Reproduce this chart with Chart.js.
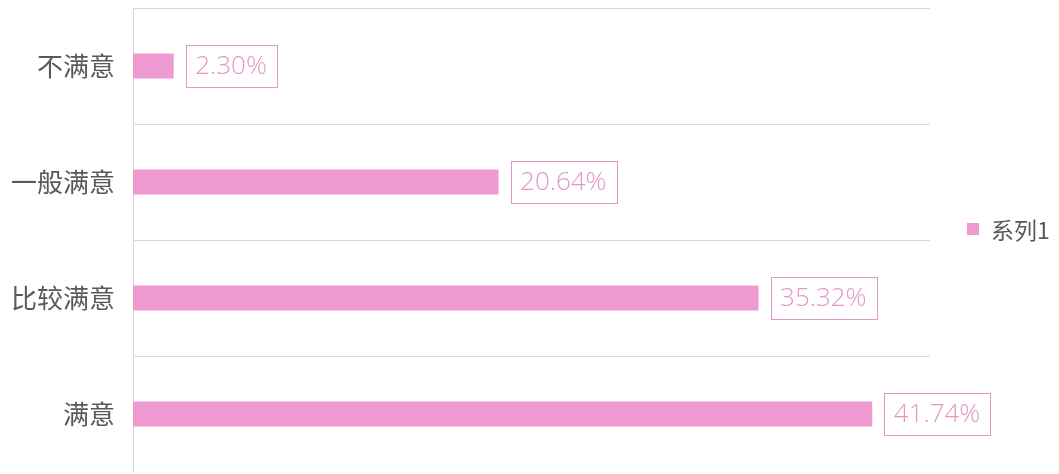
<!DOCTYPE html>
<html>
<head>
<meta charset="utf-8">
<script src="https://cdn.jsdelivr.net/npm/chart.js@4/dist/chart.umd.min.js"></script>
<style>
  html, body { margin: 0; padding: 0; background: #ffffff; overflow: hidden; }
  #wrap { position: relative; width: 1059px; height: 474px; }
</style>
</head>
<body>
<div id="wrap"><canvas id="c"></canvas></div>
<script>
const categories = ['不满意', '一般满意', '比较满意', '满意'];
const values = [2.30, 20.64, 35.32, 41.74];
const seriesName = '系列1';
const axisMin = 0;
const axisMax = 45;

const PINK = '#f09ad2';
const LABEL_PINK = '#e595c6';
const GRID = '#d9d9d9';
const TEXT = '#595959';

const valueLabels = {
  id: 'valueLabels',
  afterDatasetsDraw(chart) {
    const ctx = chart.ctx;
    const meta = chart.getDatasetMeta(0);
    const data = chart.data.datasets[0].data;
    ctx.save();
    ctx.font = '300 26px "Open Sans", "Liberation Sans", sans-serif';
    ctx.textBaseline = 'middle';
    ctx.textAlign = 'left';
    meta.data.forEach((bar, i) => {
      const txt = Number(data[i]).toFixed(2) + '%';
      const tw = ctx.measureText(txt).width;
      const padX = 9.5;
      const h = 42;
      const bx = bar.x + 12;
      const by = bar.y - h / 2;
      ctx.fillStyle = '#ffffff';
      ctx.fillRect(bx, by, tw + padX * 2, h);
      ctx.strokeStyle = LABEL_PINK;
      ctx.lineWidth = 1;
      ctx.strokeRect(Math.round(bx) + 0.5, Math.round(by) + 0.5, Math.round(tw + padX * 2), h);
      ctx.fillStyle = LABEL_PINK;
      ctx.fillText(txt, bx + padX, bar.y + 1);
    });
    ctx.restore();
  }
};

const sideLegend = {
  id: 'sideLegend',
  afterDraw(chart) {
    const ctx = chart.ctx;
    const ds = chart.data.datasets[0];
    const ca = chart.chartArea;
    const cy = (ca.top + ca.bottom) / 2 - 11;
    const x0 = ca.right + 37;
    ctx.save();
    ctx.fillStyle = ds.backgroundColor;
    ctx.fillRect(x0, cy - 6, 12, 12);
    ctx.font = '23px "Noto Sans CJK SC", sans-serif';
    ctx.fillStyle = TEXT;
    ctx.textBaseline = 'middle';
    ctx.textAlign = 'left';
    ctx.fillText(ds.label, x0 + 24, cy + 1);
    ctx.restore();
  }
};

new Chart(document.getElementById('c'), {
  type: 'bar',
  data: {
    labels: categories,
    datasets: [{
      label: seriesName,
      data: values,
      backgroundColor: PINK,
      borderWidth: 0,
      categoryPercentage: 1,
      barPercentage: 0.216
    }]
  },
  options: {
    indexAxis: 'y',
    responsive: true,
    maintainAspectRatio: false,
    animation: false,
    devicePixelRatio: 1,
    layout: { padding: { top: 8, bottom: 2, right: 129, left: 0 } },
    plugins: {
      legend: { display: false },
      tooltip: { enabled: false }
    },
    scales: {
      x: {
        display: false,
        min: axisMin,
        max: axisMax
      },
      y: {
        type: 'category',
        afterFit(scale) {
          scale.width = 133;
          scale.paddingTop = 0;
          scale.paddingBottom = 0;
        },
        grid: {
          offset: true,
          drawTicks: false,
          color: (c) => (c.type === 'tick' ? GRID : 'rgba(0,0,0,0)'),
          lineWidth: 1
        },
        border: { display: true, color: GRID },
        ticks: {
          padding: 18,
          color: TEXT,
          font: { family: '"Noto Sans CJK SC", sans-serif', size: 26 }
        }
      }
    }
  },
  plugins: [valueLabels, sideLegend]
});
</script>
</body>
</html>
